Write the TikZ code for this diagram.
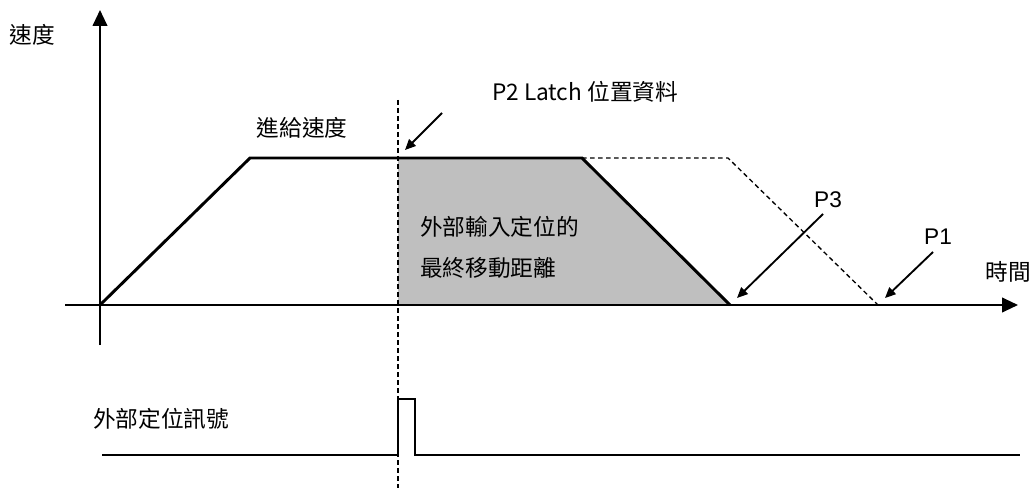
\documentclass[tikz,border=0pt]{standalone}
\usepackage{fontspec}
\newfontfamily\cjk{Noto Sans CJK TC}
\newfontfamily\arial{Liberation Sans}
\usetikzlibrary{arrows.meta}
\begin{document}
\begin{tikzpicture}[x=0.75pt,y=-0.75pt,
 lbl/.style={font=\cjk\fontsize{17}{20}\selectfont, inner sep=0},
 plbl/.style={font=\arial\fontsize{17}{20}\selectfont, inner sep=0},
 axis/.style={line width=1.5pt, -{Triangle[length=12pt,width=11pt]}},
 prof/.style={line width=2.2pt, line join=miter},
 ptr/.style={line width=1.4pt, -{Triangle[length=8pt,width=7pt]}},
 dsh/.style={line width=0.8pt, dash pattern=on 3.5pt off 2.5pt},
 area/.style={fill=black!25}]
\useasboundingbox (0,0) rectangle (1031,488);
% key points
\coordinate (O) at (100,305);
\coordinate (A) at (250,158);
\coordinate (B) at (582,158);
\coordinate (C) at (730,305);
\coordinate (L) at (398,158);
\coordinate (Lb) at (398,305);
\coordinate (D) at (728,158);
\coordinate (E) at (878,305);
\coordinate (yb) at (100,345);
\coordinate (yt) at (100,10);
\coordinate (xl) at (65,305);
\coordinate (xr) at (1018,305);
\coordinate (vt) at (398,100);
\coordinate (vb) at (398,488);
\coordinate (s0) at (102,455);
\coordinate (s1) at (398,455);
\coordinate (s2) at (398,399);
\coordinate (s3) at (415,399);
\coordinate (s4) at (415,455);
\coordinate (s5) at (1020,455);
\coordinate (p2a) at (442,113);
\coordinate (p2b) at (405,150);
\coordinate (p3a) at (823,214);
\coordinate (p3b) at (737,298);
\coordinate (p1a) at (933,252);
\coordinate (p1b) at (885,298);
% shaded area
\fill[area] (L) -- (B) -- (C) -- (Lb) -- cycle;
% axes
\draw[axis] (yb) -- (yt);
\draw[axis] (xl) -- (xr);
% profiles
\draw[dsh, line width=1pt] (B) -- (D) -- (E);
\draw[prof] (O) -- (A) -- (B) -- (C);
% latch line
\draw[dsh] (vt) -- (vb);
% signal
\draw[prof] (s0) -- (s1) -- (s2) -- (s3) -- (s4) -- (s5);
% pointers
\draw[ptr] (p2a) -- (p2b);
\draw[ptr] (p3a) -- (p3b);
\draw[ptr] (p1a) -- (p1b);
% labels
\node[lbl] (tv) at (32,35) {速度};
\node[lbl] (tt) at (1008,272) {時間};
\node[lbl] (tp2) at (585,92) {P2 Latch 位置資料};
\node[lbl] (tfeed) at (302,128) {進給速度};
\node[lbl, anchor=west] (ta1) at (420,227) {外部輸入定位的};
\node[lbl, anchor=west] (ta2) at (420,268) {最終移動距離};
\node[plbl] (tp3) at (828,200) {P3};
\node[plbl] (tp1) at (938,237) {P1};
\node[lbl, anchor=west] (tsig) at (93,419) {外部定位訊號};
\end{tikzpicture}
\end{document}
